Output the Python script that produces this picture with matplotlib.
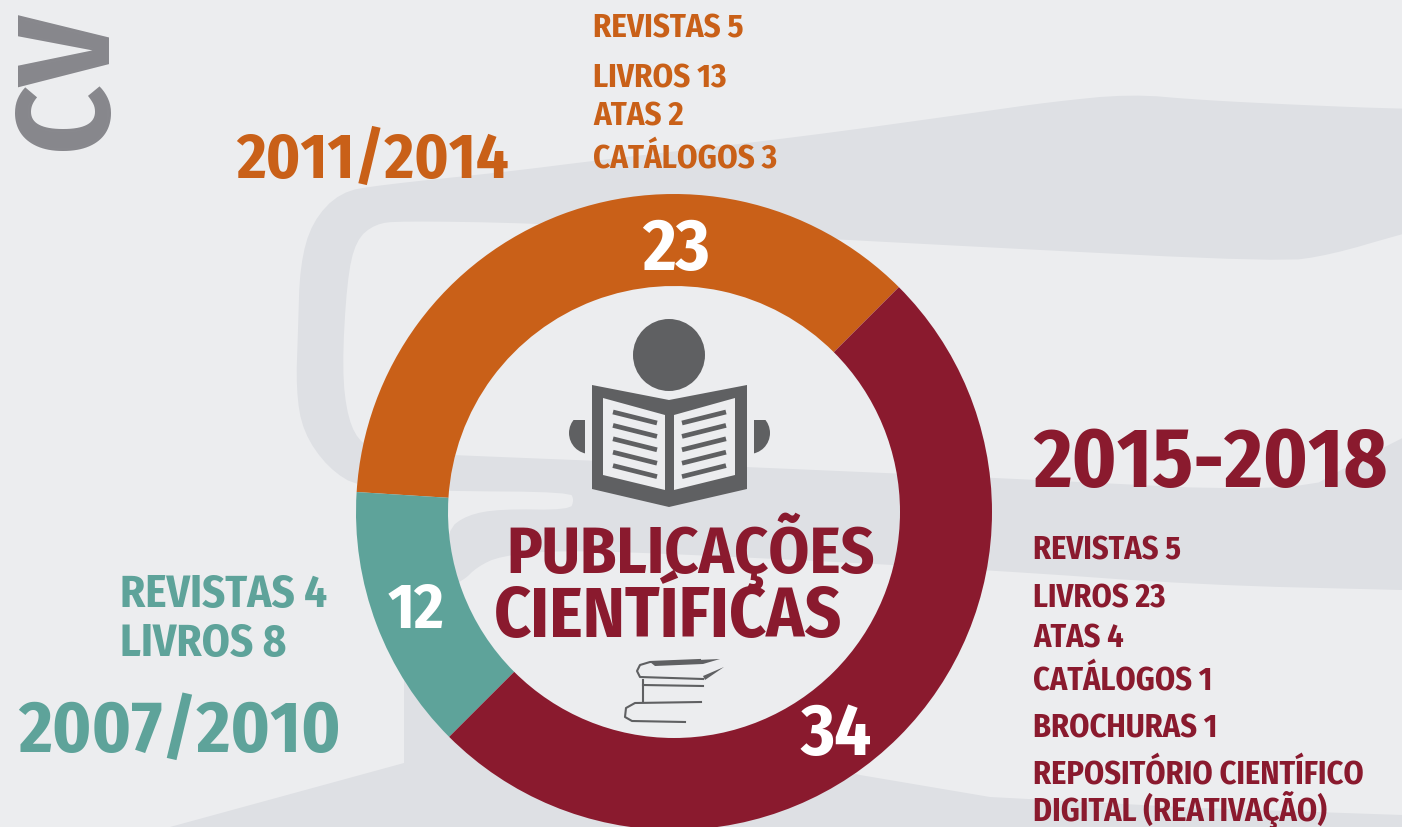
import matplotlib
matplotlib.use('Agg')
import matplotlib.pyplot as plt
import logging
from matplotlib.patches import Polygon, Circle, Rectangle

logging.getLogger('matplotlib.font_manager').setLevel(logging.ERROR)

W, H = 1402, 827

# data
periods = ['2011/2014', '2007/2010', '2015-2018']
totals = [23, 12, 34]
# the arcs in the original are not proportional to the totals
arc_degrees = [131.4, 48.6, 180]
items_2011 = ['REVISTAS 5', 'LIVROS 13', 'ATAS 2', 'CATÁLOGOS 3']
items_2007 = ['REVISTAS 4', 'LIVROS 8']
items_2015 = ['REVISTAS 5', 'LIVROS 23', 'ATAS 4', 'CATÁLOGOS 1', 'BROCHURAS 1',
              'REPOSITÓRIO CIENTÍFICO', 'DIGITAL (REATIVAÇÃO)']

ORANGE = '#c96018'
RED = '#8a1a2e'
TEAL = '#5ea39a'
BG = '#ecedef'
BAND = '#dee0e4'
ICON = '#5f6062'
FONT = ['Fira Sans Condensed', 'Liberation Sans', 'DejaVu Sans']


def flip(pts):
    return [(x, H - y) for x, y in pts]


def smooth(pts, rounds=2):
    # corner cutting, the ribbons have soft edges
    for _ in range(rounds):
        out = []
        for i, (x0, y0) in enumerate(pts):
            x1, y1 = pts[(i + 1) % len(pts)]
            out.append((0.75 * x0 + 0.25 * x1, 0.75 * y0 + 0.25 * y1))
            out.append((0.25 * x0 + 0.75 * x1, 0.25 * y0 + 0.75 * y1))
        pts = out
    return pts


def label(x, y, s, size, color, **kw):
    ax.text(x, H - y, s, fontsize=size, color=color, family=FONT, weight='bold',
            ha=kw.pop('ha', 'left'), va='baseline', zorder=7, **kw)


fig = plt.figure(figsize=(W / 100, H / 100), dpi=100, facecolor=BG)
ax = fig.add_axes([0, 0, 1, 1])

# background ribbon shapes, the page edge points are kept far outside so they stay straight
ribbon = [(1600, 112), (1402, 109), (1300, 105), (1200, 100), (1130, 94), (1050, 102), (980, 112), (800, 137),
          (600, 160), (505, 172), (380, 185), (340, 192), (312, 222), (300, 265), (298, 330), (296, 390),
          (303, 432), (328, 468), (360, 488), (440, 491), (570, 492), (574, 500), (570, 510), (500, 509),
          (467, 515), (447, 530), (440, 590), (463, 581), (477, 567), (500, 556), (560, 550), (700, 555),
          (990, 570), (1200, 585), (1402, 590), (1600, 595), (1600, 340), (1402, 438), (1350, 465), (1300, 493),
          (1000, 478), (700, 465), (450, 455), (385, 452), (362, 445), (348, 420), (342, 370), (347, 280),
          (356, 240), (375, 224), (400, 221), (530, 223), (700, 232), (980, 247), (1280, 262), (1330, 255),
          (1402, 234), (1600, 180)]
ax.add_patch(Polygon(flip(smooth(ribbon)), closed=True, fc=BAND, ec='none', zorder=1))
lower = [(404, 680), (404, 763), (170, 827), (100, 850), (1600, 850), (1600, 820), (1402, 815), (1200, 808),
         (990, 797), (860, 775), (840, 770), (674, 770), (500, 700), (450, 680)]
ax.add_patch(Polygon(flip(lower), closed=True, fc=BAND, ec='none', zorder=1))

# donut
wedges, _ = ax.pie(arc_degrees, colors=[ORANGE, TEAL, RED], startangle=45, counterclock=True,
                   center=(674, H - 512), radius=318, frame=True,
                   wedgeprops=dict(width=92, linewidth=0))
for w in wedges:
    w.set_zorder(3)

ax.set_xlim(0, W)
ax.set_ylim(0, H)
ax.set_aspect('equal')
ax.axis('off')

# reader icon
ax.add_patch(Circle((669, H - 355), 36, fc=ICON, ec='none', zorder=4))
for cx, x0, x1 in [(590, 560, 585), (749, 754, 780)]:
    ear = Circle((cx, H - 433), 21, fc=ICON, ec='none', zorder=4)
    ax.add_patch(ear)
    ear.set_clip_path(Rectangle((x0, H - 470), x1 - x0, 50, transform=ax.transData))
cover = [(592, 385), (669, 400), (747, 385), (747, 489), (669, 507), (592, 489)]
ax.add_patch(Polygon(flip(cover), closed=True, fc=ICON, ec='none', zorder=4))
page_l = [(603, 398), (665, 415), (665, 490), (603, 475)]
page_r = [(674, 415), (735, 398), (735, 475), (674, 490)]
for page in (page_l, page_r):
    ax.add_patch(Polygon(flip(page), closed=True, fc=BG, ec='none', zorder=5))
for i in range(5):
    dy = i * 13.4
    ax.plot([613, 657], [H - (412 + dy), H - (423 + dy)], color=ICON, lw=3.4, zorder=6, solid_capstyle='butt')
    ax.plot([682, 726], [H - (423 + dy), H - (412 + dy)], color=ICON, lw=3.4, zorder=6, solid_capstyle='butt')

# stack of books icon
ax.add_patch(Polygon(flip([(650, 662), (720, 659), (703, 664), (655, 666)]), closed=True, fc=ICON, ec='none', zorder=4))
ax.add_patch(Polygon(flip([(703, 676), (724, 667), (705, 680)]), closed=True, fc=ICON, ec='none', zorder=4))
book_paths = [
    [(700, 660), (650, 662), (640, 665), (637, 671), (640, 677), (703, 679)],
    [(643, 680), (643, 702)],
    [(643, 685), (703, 686)],
    [(701, 702), (635, 703), (626, 708), (625, 717), (632, 721), (685, 722)],
]
for p in book_paths:
    xs = [a for a, b in p]
    ys = [H - b for a, b in p]
    ax.plot(xs, ys, color=ICON, lw=1.5, zorder=4, solid_joinstyle='round')

# centre title
label(506, 573, 'PUBLICAÇÕES', 47, RED)
label(494, 637, 'CIENTÍFICAS', 51, RED)

# totals on the ring
label(676, 270, str(totals[0]), 52, 'white', ha='center')
label(416, 628, str(totals[1]), 46, 'white', ha='center')
label(836, 755, str(totals[2]), 52, 'white', ha='center')

# periods
label(236, 178, periods[0], 46, ORANGE)
label(18, 752, periods[1], 52.5, TEAL)
label(1033, 487, periods[2], 60, RED)

for s, y in zip(items_2011, [38, 87, 126, 168]):
    label(593, y, s, 23.6, ORANGE)
for s, y in zip(items_2007, [607, 656]):
    label(120, y, s, 32.3, TEAL)
for s, y in zip(items_2015, [559, 607, 647, 690, 737, 783, 821]):
    label(1033, y, s, 23.2, RED)

# cropped logo
ax.text(106, H - 150, 'CV', fontsize=95, color='#87878c', family=FONT, weight='bold',
        rotation=90, rotation_mode='anchor', ha='left', va='baseline', zorder=2)

fig.savefig('out.png', dpi=100, facecolor=BG)
